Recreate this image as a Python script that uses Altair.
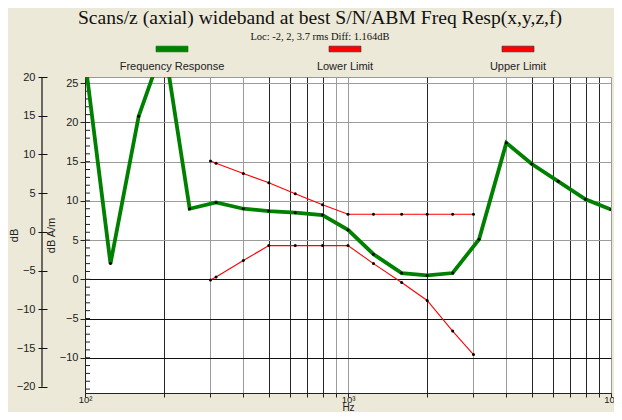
import altair as alt
import pandas as pd

# ---- data ----
resp_freq = [100, 125, 160, 200, 250, 315, 400, 500, 630, 800, 1000, 1250,
             1600, 2000, 2500, 3150, 4000, 5000, 6300, 8000, 10000]
resp_db = [28.0, 2.0, 20.8, 30.0, 9.0, 9.8, 9.0, 8.7, 8.5, 8.2, 6.3, 3.2,
           0.8, 0.5, 0.8, 5.1, 17.4, 14.7, 12.5, 10.2, 8.9]

limit_freq = [300, 315, 400, 500, 630, 800, 1000, 1250, 1600, 2000, 2500, 3000]
lower_db = [-0.1, 0.3, 2.4, 4.3, 4.3, 4.3, 4.3, 2.0, -0.4, -2.7, -6.6, -9.6]
upper_db = [15.1, 14.8, 13.5, 12.3, 10.9, 9.5, 8.3, 8.3, 8.3, 8.3, 8.3, 8.3]

series_names = ["Frequency Response", "Lower Limit", "Upper Limit"]
series_colors = ["#008000", "#FF0000", "#FF0000"]
swatch_edges = ["#008000", "#333333", "#333333"]

x_tick_values = [100, 200, 300, 400, 500, 600, 700, 800, 900,
                 1000, 2000, 3000, 4000, 5000, 6000, 7000, 8000, 9000, 10000]
x_light_grid = [300, 400, 900, 1000, 3000, 4000, 10000]
x_tick_labels = {100: "10²", 1000: "10³", 10000: "10⁴"}
inner_ticks = [-10, -5, 0, 5, 10, 15, 20, 25]
inner_minor = list(range(-14, 26))
outer_ticks = [-20, -15, -10, -5, 0, 5, 10, 15, 20]

title_text = "Scans/z (axial) wideband at best S/N/ABM Freq Resp(x,y,z,f)"
subtitle_text = "Loc: -2, 2, 3.7 rms Diff: 1.164dB"

# ---- tables ----
resp_df = pd.DataFrame({"freq": resp_freq, "val": resp_db})
resp_df["series"] = series_names[0]
lim_rows = []
for f, v in zip(limit_freq, lower_db):
    lim_rows.append({"series": series_names[1], "freq": f, "val": v})
for f, v in zip(limit_freq, upper_db):
    lim_rows.append({"series": series_names[2], "freq": f, "val": v})
lim_df = pd.DataFrame(lim_rows)
all_df = pd.concat([resp_df, lim_df], ignore_index=True)

minor_df = pd.DataFrame({"v": inner_minor})
outer_df = pd.DataFrame({"lo": [min(outer_ticks)], "hi": [max(outer_ticks)]})
legend_df = pd.DataFrame({"series": series_names})

FONT = "Liberation Sans"

label_expr = " : ".join(
    [f"datum.value == {k} ? '{v}'" for k, v in x_tick_labels.items()]) + " : ''"
light_list = ",".join(str(v) for v in x_light_grid)

x_enc = alt.X(
    "freq:Q",
    scale=alt.Scale(type="log", domain=[100, 10000], nice=False),
    axis=alt.Axis(
        values=x_tick_values, labelExpr=label_expr, title="Hz",
        tickSize=4, tickColor="#222", domainColor="#222",
        grid=True,
        gridColor={"condition": {"test": f"indexof([{light_list}], datum.value) >= 0",
                                 "value": "#9c9c9c"}, "value": "#262626"},
        labelFont=FONT, labelFontSize=9.5, labelColor="#222", labelOverlap=False,
        labelFlush=False, labelPadding=-3,
        titleFont=FONT, titleFontSize=10, titleFontWeight="normal",
        titleColor="#222", titlePadding=-1.5),
)

y_scale = alt.Scale(domain=[-14.5, 25.8], nice=False, zero=False)
y_axis = alt.Axis(
    values=inner_ticks, title="dB A/m", tickSize=5, tickColor="#222",
    domainColor="#222", grid=True,
    gridColor={"condition": {"test": "datum.value <= 0", "value": "#111"},
               "value": "#9c9c9c"},
    labelFont=FONT, labelFontSize=11, labelColor="#222", labelPadding=2,
    titleFont=FONT, titleFontSize=11, titleFontWeight="normal", titleColor="#222",
    titlePadding=3)
y_enc = alt.Y("val:Q", scale=y_scale, axis=y_axis)

resp_line = alt.Chart(resp_df).mark_line(
    clip=True, color=series_colors[0], strokeWidth=3.8).encode(x=x_enc, y=y_enc)

lim_line = alt.Chart(lim_df).mark_line(
    clip=True, color=series_colors[1], strokeWidth=1.1).encode(
    x=x_enc, y=y_enc, detail="series:N")

points = alt.Chart(all_df).mark_point(
    filled=True, clip=True, color="black", size=9, opacity=1).encode(x=x_enc, y=y_enc)

minor = alt.Chart(minor_df).mark_rule(color="#222", strokeWidth=1).encode(
    y=alt.Y("v:Q", scale=y_scale, axis=y_axis),
    x=alt.value(0), x2=alt.value(5),
)

main = alt.layer(minor, lim_line, resp_line, points)

outer = alt.Chart(outer_df).mark_rule(color="#111", strokeWidth=1.2).encode(
    y=alt.Y("lo:Q", scale=alt.Scale(domain=[-20.8, 20], nice=False, zero=False),
            axis=alt.Axis(orient="left", offset=38, values=outer_ticks, title="dB",
                          domain=False, grid=False, tickSize=9, tickColor="#111",
                          labelFont=FONT, labelFontSize=11, labelColor="#222",
                          labelPadding=3, titleFont=FONT, titleFontSize=11,
                          titleFontWeight="normal", titleColor="#222",
                          titlePadding=-3)),
    y2="hi:Q",
    x=alt.value(-43),
)

legend_x = alt.X("series:N", sort=series_names,
                 scale=alt.Scale(type="point", padding=0, range=[87, 433]), axis=None)
swatch = alt.Chart(legend_df).mark_point(
    shape="M-1,-0.18H1V0.18H-1Z", filled=True, size=1024, opacity=1,
    strokeWidth=0.6).encode(
    x=legend_x, y=alt.value(-28),
    fill=alt.Fill("series:N", scale=alt.Scale(domain=series_names, range=series_colors),
                  legend=None),
    stroke=alt.Stroke("series:N", scale=alt.Scale(domain=series_names, range=swatch_edges),
                      legend=None),
)
legend_text = alt.Chart(legend_df).mark_text(
    font=FONT, fontSize=11, color="#222", baseline="middle").encode(
    x=legend_x, y=alt.value(-10), text="series:N",
)

chart = alt.layer(main, outer, swatch, legend_text).resolve_scale(
    x="independent", y="independent", fill="independent", stroke="independent"
).properties(
    width=526, height=316,
    title=alt.TitleParams(
        text=title_text, subtitle=subtitle_text,
        font="Liberation Serif", fontSize=19.6, fontWeight="normal", color="#111",
        subtitleFont="Liberation Serif", subtitleFontSize=10.5, subtitleColor="#111",
        subtitlePadding=4, anchor="middle", dx=-28, offset=1),
    autosize=alt.AutoSizeParams(type="none"),
    padding={"left": 77, "top": 69, "right": 3, "bottom": 19},
    background="#ECE9D8",
).configure_view(fill="white", stroke="#999")

chart.save("out.html", embed_options={"renderer": "svg", "actions": False})
